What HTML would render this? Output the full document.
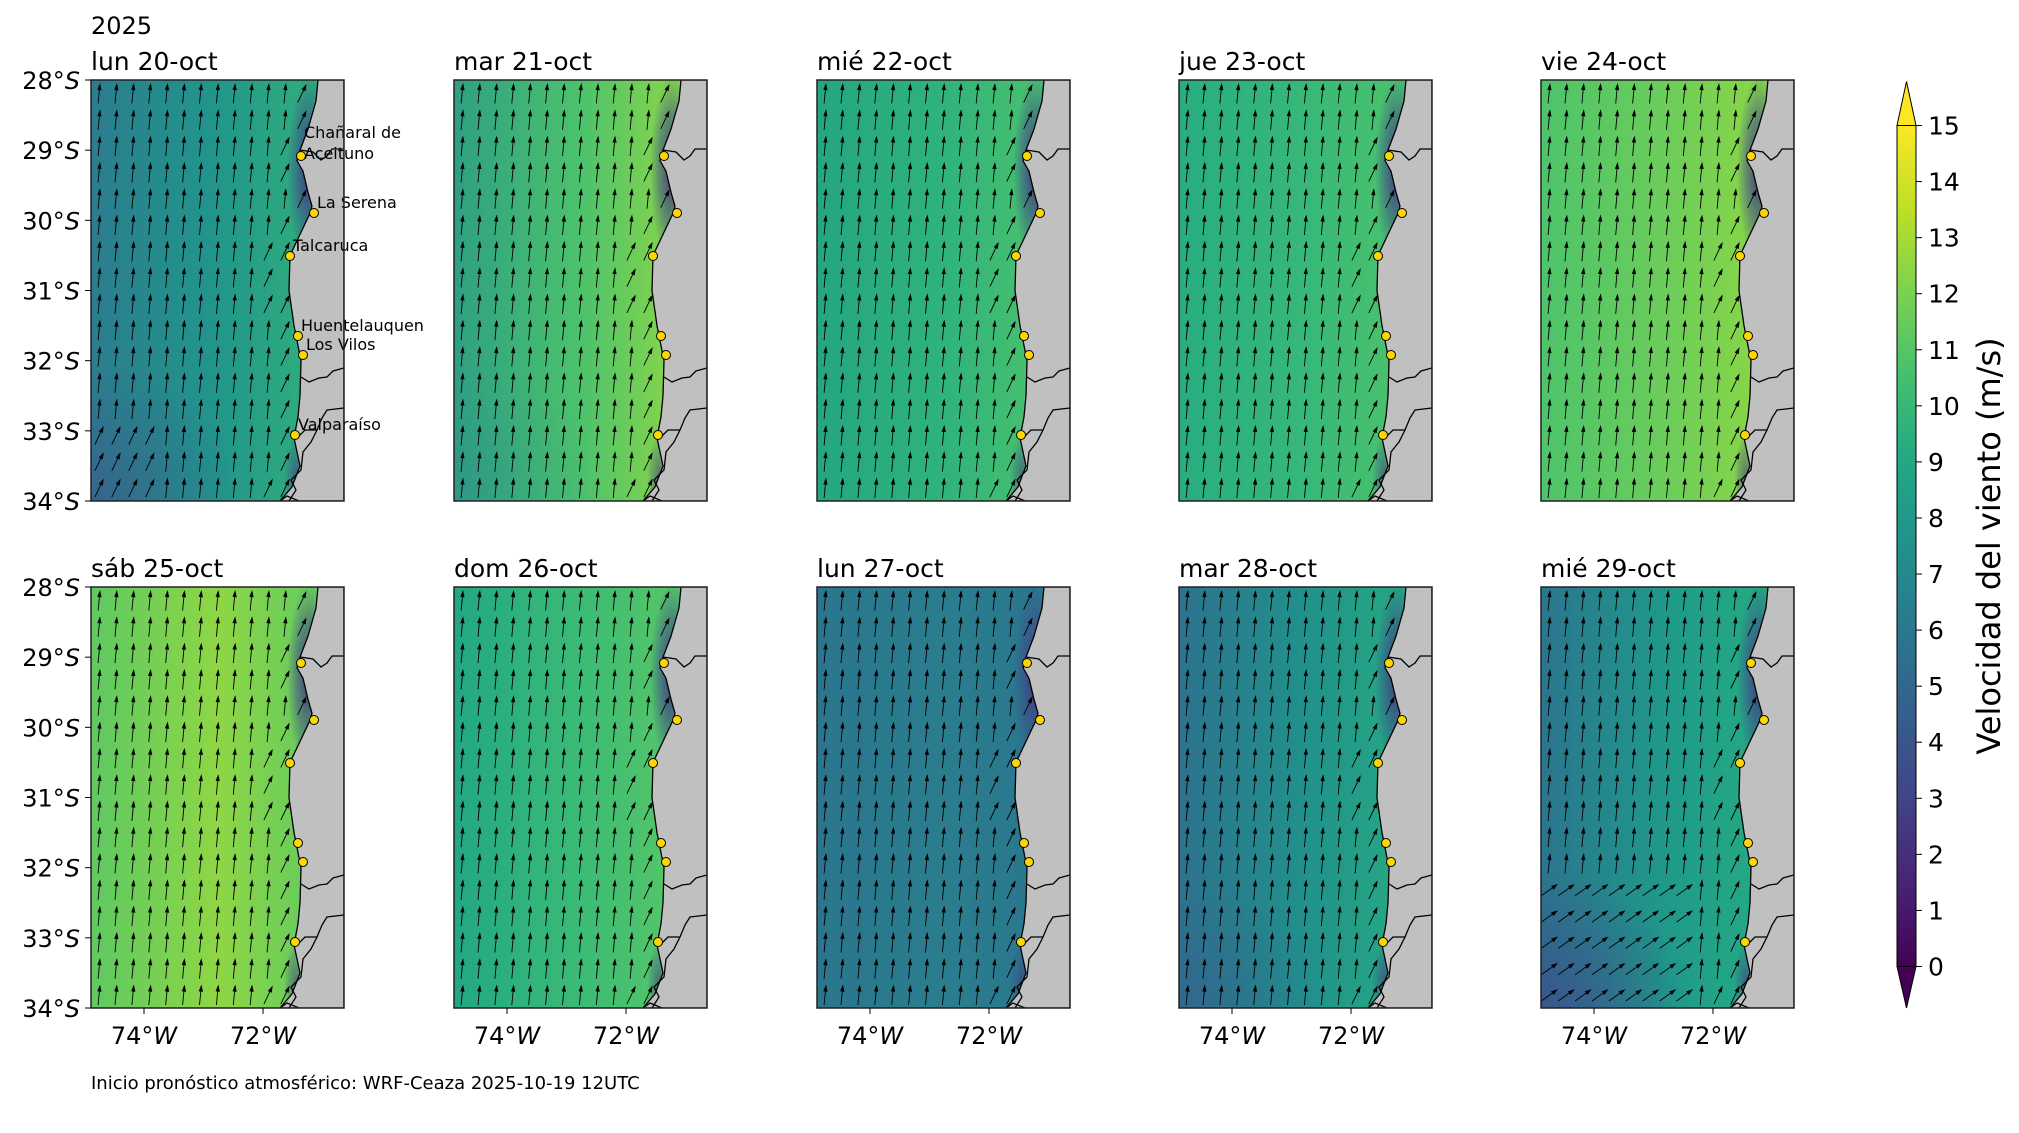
<!DOCTYPE html>
<html><head><meta charset="utf-8"><style>
html,body{margin:0;padding:0;background:#fff}
svg text{font-family:"DejaVu Sans","Liberation Sans",sans-serif;fill:#000}
</style></head><body>
<svg id="s" width="2019" height="1128" xmlns="http://www.w3.org/2000/svg">
<defs>
<linearGradient id="vir" x1="0" y1="1" x2="0" y2="0">
<stop offset="0" stop-color="#440154"/><stop offset="0.1" stop-color="#482475"/><stop offset="0.2" stop-color="#414487"/><stop offset="0.3" stop-color="#355f8d"/><stop offset="0.4" stop-color="#2a788e"/><stop offset="0.5" stop-color="#21918c"/><stop offset="0.6" stop-color="#22a884"/><stop offset="0.7" stop-color="#44bf70"/><stop offset="0.8" stop-color="#7ad151"/><stop offset="0.9" stop-color="#bddf26"/><stop offset="1" stop-color="#fde725"/>
</linearGradient>
<radialGradient id="pur" cx="0.5" cy="0.5" r="0.5">
<stop offset="0" stop-color="#472d7b" stop-opacity="0.95"/><stop offset="0.6" stop-color="#3e4a89" stop-opacity="0.5"/><stop offset="1" stop-color="#3e4a89" stop-opacity="0"/>
</radialGradient>
<clipPath id="pc"><rect x="0" y="0" width="253" height="421"/></clipPath>
</defs>
<g id="root"></g>
<text x="91" y="34" font-size="24">2025</text>
<text x="91" y="1089" font-size="18">Inicio pronóstico atmosférico: WRF-Ceaza 2025-10-19 12UTC</text>
<rect x="1897" y="125.5" width="19" height="841" fill="url(#vir)"/>
<polygon points="1897,125.5 1906.5,81.5 1916,125.5" fill="#fde725" stroke="#000" stroke-width="1"/>
<polygon points="1897,966.5 1906.5,1008 1916,966.5" fill="#440154" stroke="#000" stroke-width="1"/>
<rect x="1897" y="125.5" width="19" height="841" fill="none" stroke="#000" stroke-width="1"/>
<g id="cb"></g>
<text transform="translate(2000,546) rotate(-90)" text-anchor="middle" font-size="32">Velocidad del viento (m/s)</text>
</svg>
<script>
const NS="http://www.w3.org/2000/svg";
const root=document.getElementById('root');
function el(t,a,p){const e=document.createElementNS(NS,t);for(const k in a)e.setAttribute(k,a[k]);(p||root).appendChild(e);return e;}
const cb=document.getElementById('cb');
for(let v=0;v<=15;v++){const y=966.5-v*841/15;el('line',{x1:1916,y1:y,x2:1922,y2:y,stroke:'#000','stroke-width':1},cb);const t=el('text',{x:1928,y:y+9,'font-size':25},cb);t.textContent=v;}
const W=253,H=421;
const coast=[[28,227],[28.3,225],[28.7,217],[29,209],[29.15,206],[29.3,212],[29.6,217],[29.8,221],[29.9,219],[30.2,209],[30.5,199],[31,198],[31.5,203],[32,210],[32.5,209],[32.8,207],[33.1,203],[33.5,209],[33.8,201],[34,189]].map(p=>[p[1],(p[0]-28)/6*H]);
function coastX(y){for(let i=1;i<coast.length;i++){if(y<=coast[i][1]){const a=coast[i-1],b=coast[i];return a[0]+(b[0]-a[0])*(y-a[1])/(b[1]-a[1]);}}return 189;}
const coastD='M'+coast.map(p=>p.join(',')).join(' L');
const landD=coastD+' L253,421 L253,0 Z';
const borders=['M209,70 L222,72 L230,80 L236,76 L241,69 L253,69','M210,297 L218,302 L228,298 L236,297 L242,291 L253,288','M207,357 L214,350 L226,350 L231,338 L236,330 L253,328','M226,350 L220,362 L212,372 L210,390 L200,400 L205,410 L198,421','M189,421 L196,416 L208,421'];
const stations=[[210,76,'Chañaral de\nAceituno'],[223,133,'La Serena'],[199,176,'Talcaruca'],[207,256,'Huentelauquen'],[212,275,'Los Vilos'],[204,355,'Valparaíso']];
const cols=[
['#2b7d8e','#21968b','#2eab7e','#3a5a8c',0.7],
['#2ea083','#4cc26c','#7fd34e','#2c8a8c',0.4],
['#25a682','#2fb37b','#45bf70','#23a083',0],
['#28ad80','#37b878','#48c16e','#27a682',0],
['#4ec36b','#6ccd5a','#86d549','#45bf70',0],
['#5ec962','#8ed645','#6ccd5a','#54c568',0],
['#22a785','#3bbb75','#52c569','#20a386',0],
['#2b768e','#2a7d8e','#2a788e','#2d6f8e',0],
['#2c738e','#21918c','#25a584','#355f8d',0.6],
['#2b758e','#1f9a8a','#24a884','#3b528b',0.9]];
const titles=['lun 20-oct','mar 21-oct','mié 22-oct','jue 23-oct','vie 24-oct','sáb 25-oct','dom 26-oct','lun 27-oct','mar 28-oct','mié 29-oct'];
const X=[91,454,817,1179,1541],Y=[80,587];
titles.forEach((t,i)=>{
 const r=Math.floor(i/5),c=i%5,x0=X[c],y0=Y[r],C=cols[i];
 const g=el('g',{transform:`translate(${x0},${y0})`});
 const gid='g'+i,rid='r'+i;
 const d=el('defs',{},g);
 const lg=el('linearGradient',{id:gid,x1:0,y1:0,x2:1,y2:0},d);
 el('stop',{offset:0,'stop-color':C[0]},lg);el('stop',{offset:0.5,'stop-color':C[1]},lg);el('stop',{offset:0.82,'stop-color':C[2]},lg);
 const rg=el('radialGradient',{id:rid,cx:0.5,cy:0.5,r:0.5},d);
 el('stop',{offset:0,'stop-color':C[3],'stop-opacity':C[4]},rg);el('stop',{offset:1,'stop-color':C[3],'stop-opacity':0},rg);
 const cg=el('g',{'clip-path':'url(#pc)'},g);
 el('rect',{x:0,y:0,width:W,height:H,fill:`url(#${gid})`},cg);
 el('ellipse',{cx:0,cy:H,rx:150,ry:140,fill:`url(#${rid})`},cg);
 el('ellipse',{cx:218,cy:90,rx:22,ry:95,fill:'url(#pur)'},cg);
 el('ellipse',{cx:205,cy:395,rx:12,ry:40,fill:'url(#pur)',opacity:0.6},cg);
 let a='';
 for(let j=0;j<16;j++){for(let k=0;k<15;k++){
  const cx=8+k*16.9,cy=14+j*26.3;
  const cxl=coastX(cy);
  if(cx>cxl-5)continue;
  const near=cx>cxl-25;
  let ang=near?0.45:0.1;
  if(i==9&&cy>300&&cx<150)ang=0.95;
  if(i==0&&cy>330&&cx<60)ang=0.45;
  const L=19,dx=Math.sin(ang)*L/2,dy=Math.cos(ang)*L/2;
  const x1=cx-dx,y1=cy+dy,x2=cx+dx,y2=cy-dy;
  a+=`M${x1.toFixed(1)},${y1.toFixed(1)} L${x2.toFixed(1)},${y2.toFixed(1)} `;
  const hx=Math.sin(ang),hy=-Math.cos(ang),px=-hy,py=hx;
  a+=`M${(x2-hx*5+px*1.6).toFixed(1)},${(y2-hy*5+py*1.6).toFixed(1)} L${x2.toFixed(1)},${y2.toFixed(1)} L${(x2-hx*5-px*1.6).toFixed(1)},${(y2-hy*5-py*1.6).toFixed(1)} Z `;
 }}
 el('path',{d:a,stroke:'#000','stroke-width':0.9,fill:'#000'},cg);
 el('path',{d:landD,fill:'#c0c0c0',stroke:'#000','stroke-width':1.3},cg);
 borders.forEach(b=>el('path',{d:b,fill:'none',stroke:'#000','stroke-width':1.3},cg));
 stations.forEach(s=>{
  el('circle',{cx:s[0],cy:s[1],r:4.5,fill:'#ffd700',stroke:'#000','stroke-width':1},g);
  if(i==0){const lines=s[2].split('\n');
   const ty=s[2].includes('\n')?s[1]-18:s[1]-5;
   lines.forEach((ln,li)=>{const tt=el('text',{x:s[0]+3,y:ty+li*21,'font-size':16},g);tt.textContent=ln;});}
 });
 el('rect',{x:0,y:0,width:W,height:H,fill:'none',stroke:'#222','stroke-width':1.5},g);
 const tt=el('text',{x:0,y:-10,'font-size':25},g);tt.textContent=t;
 if(c==0){for(let l=0;l<=6;l++){const y=l*H/6;el('line',{x1:-6,y1:y,x2:0,y2:y,stroke:'#000'},g);const lt=el('text',{x:-11,y:y+9,'font-size':24,'text-anchor':'end'},g);lt.innerHTML=(28+l)+'°<tspan font-style="italic">S</tspan>';}}
 if(r==1){[[53,'74'],[172,'72']].forEach(p=>{el('line',{x1:p[0],y1:H,x2:p[0],y2:H+6,stroke:'#000'},g);const lt=el('text',{x:p[0],y:H+36,'font-size':24,'text-anchor':'middle'},g);lt.innerHTML=p[1]+'°<tspan font-style="italic">W</tspan>';});}
});
</script>
</body></html>
